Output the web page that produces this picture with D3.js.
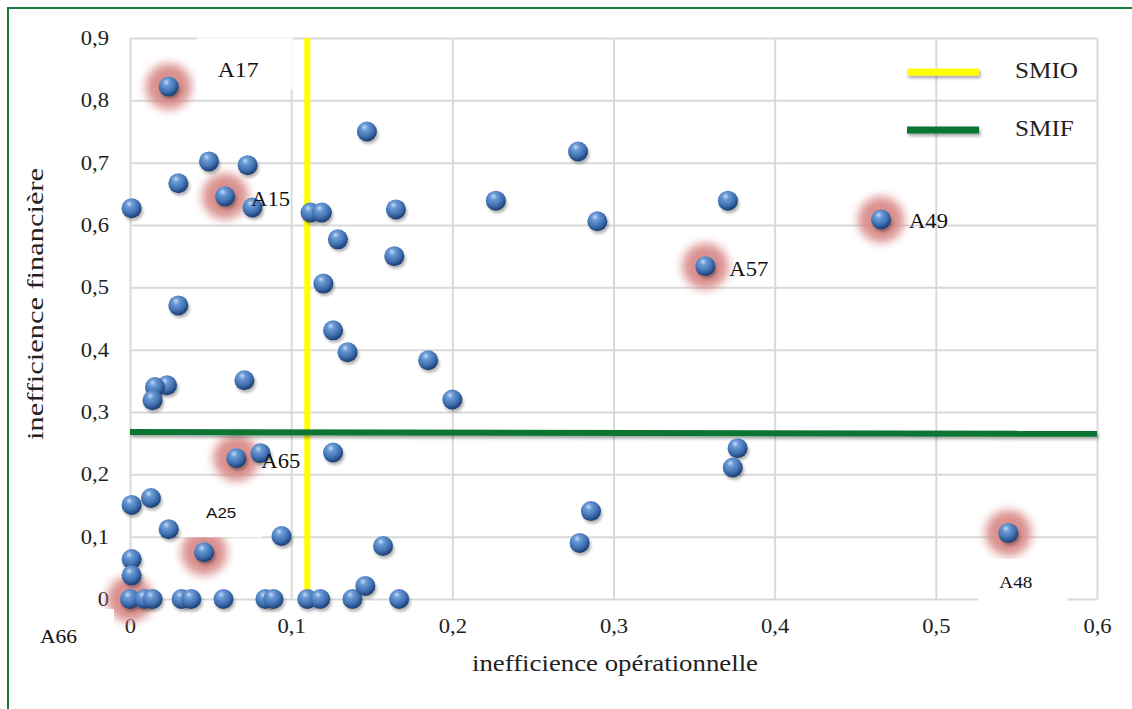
<!DOCTYPE html>
<html><head><meta charset="utf-8">
<script src="https://cdn.jsdelivr.net/npm/d3@7"></script>
<style>body{margin:0;background:#fff}svg{display:block}
.serif{font-family:"Liberation Serif","Times New Roman",Times,serif}
.sans{font-family:"Liberation Sans",Arial,sans-serif}</style>
</head><body>
<svg id="c" width="1132" height="709"></svg>
<script>
// ---- data ----
const pointX = [0.024,0.001,0.030,0.049,0.073,0.059,0.076,0.112,0.119,0.147,
  0.278,0.165,0.227,0.290,0.129,0.164,0.120,0.126,0.135,0.185,
  0.200,0.371,0.466,0.357,0.030,0.071,0.023,0.0155,0.014,0.066,
  0.081,0.126,0.377,0.374,0.286,0.279,0.545,0.001,0.013,0.024,
  0.046,0.094,0.157,0.001,0.001,0.000,0.009,0.014,0.032,0.038,
  0.058,0.084,0.089,0.110,0.118,0.138,0.167,0.146];
const pointY = [0.822,0.627,0.667,0.702,0.696,0.646,0.628,0.620,0.620,0.750,
  0.718,0.625,0.639,0.606,0.577,0.550,0.506,0.431,0.396,0.383,
  0.320,0.639,0.609,0.534,0.471,0.351,0.343,0.340,0.319,0.226,
  0.234,0.235,0.242,0.211,0.141,0.090,0.106,0.151,0.162,0.112,
  0.075,0.101,0.085,0.064,0.038,0.000,0.000,0.000,0.000,0.000,
  0.000,0.000,0.000,0.000,0.000,0.000,0.000,0.021];
const pointLabel = ["A17","","","","","A15","","","","",
  "","","","","","","","","","",
  "","","A49","A57","","","","","","A65",
  "","","","","","","A48","","","",
  "A25","","","","","A66","","","","",
  "","","","","","","",""];
const xTicks = [0,0.1,0.2,0.3,0.4,0.5,0.6];
const yTicks = [0,0.1,0.2,0.3,0.4,0.5,0.6,0.7,0.8,0.9];
const smioX = 0.110;       // SMIO threshold (operational)
const smifY = [0.268,0.265]; // SMIF threshold (financial), start/end
const legendNames = ["SMIO","SMIF"];
const xTitle = "inefficience opérationnelle";
const yTitle = "inefficience financière";

// ---- label styling (pixel offsets from point) ----
const labelStyle = {
  A17:{dx:49,dy:-17,size:21,cls:"serif",box:[28,-49,96,52]},
  A15:{dx:26,dy:3,size:20,cls:"serif"},
  A49:{dx:28,dy:2,size:20,cls:"serif"},
  A57:{dx:24,dy:3,size:20,cls:"serif"},
  A65:{dx:25,dy:3,size:20,cls:"serif"},
  A25:{dx:2,dy:-40,size:15,cls:"sans",box:[-25,-61,83,46]},
  A48:{dx:-9,dy:50,size:17,cls:"serif",box:[-30,26,89,42]},
  A66:{dx:-90,dy:37,size:19,cls:"serif",box:[-101,10,85,50]}
};

const STRETCH = 1.13;
function stretch(sel, k){
  sel.each(function(){
    const w = this.getComputedTextLength();
    if (w>0) d3.select(this).attr("textLength", w*(k||STRETCH)).attr("lengthAdjust","spacingAndGlyphs");
  });
}

const svg = d3.select("#c");
const L=130,R=1097,T=38,B=599;
const x = d3.scaleLinear().domain([0,0.6]).range([L,R]);
const y = d3.scaleLinear().domain([0,0.9]).range([B,T]);
const loc = d3.formatLocale({decimal:",",thousands:" ",grouping:[3],currency:["","€"]});
const fmt = v => v===0 ? "0" : loc.format(".1f")(v);

const defs = svg.append("defs");
const g1 = defs.append("radialGradient").attr("id","sph").attr("cx","40%").attr("cy","32%").attr("r","65%").attr("fx","38%").attr("fy","28%");
g1.append("stop").attr("offset","0%").attr("stop-color","#c4dcf7");
g1.append("stop").attr("offset","25%").attr("stop-color","#6c9bd6");
g1.append("stop").attr("offset","70%").attr("stop-color","#3e6fb0");
g1.append("stop").attr("offset","100%").attr("stop-color","#1f4378");
const fBlur = defs.append("filter").attr("id","glow").attr("x","-60%").attr("y","-60%").attr("width","220%").attr("height","220%");
fBlur.append("feGaussianBlur").attr("stdDeviation",5);
const fSh = defs.append("filter").attr("id","sh").attr("x","-50%").attr("y","-50%").attr("width","200%").attr("height","200%");
fSh.append("feGaussianBlur").attr("stdDeviation",1.8);
const fLine = defs.append("filter").attr("id","lsh").attr("filterUnits","userSpaceOnUse")
  .attr("x",0).attr("y",0).attr("width",1132).attr("height",709);
fLine.append("feDropShadow").attr("dx",1.5).attr("dy",2.5).attr("stdDeviation",1.5).attr("flood-color","#000").attr("flood-opacity",0.35);

// frame
svg.append("rect").attr("x",8).attr("y",8).attr("width",1160).attr("height",740)
  .attr("fill","none").attr("stroke","#1b7a3e").attr("stroke-width",2);

// grid
svg.append("g").attr("transform",`translate(0,${B})`)
  .call(d3.axisBottom(x).tickValues(xTicks).tickSize(-(B-T)).tickFormat(""))
  .call(g=>{g.select(".domain").remove();g.selectAll("line").attr("stroke","#d9d9d9").attr("stroke-width",2);});
svg.append("g").attr("transform",`translate(${L},0)`)
  .call(d3.axisLeft(y).tickValues(yTicks).tickSize(-(R-L)).tickFormat(""))
  .call(g=>{g.select(".domain").remove();g.selectAll("line").attr("stroke","#d9d9d9").attr("stroke-width",2);});

// tick labels
svg.append("g").attr("transform",`translate(${L},0)`)
  .call(d3.axisLeft(y).tickValues(yTicks).tickSize(0).tickPadding(21).tickFormat(fmt))
  .call(g=>{g.select(".domain").remove();g.attr("font-family",null).attr("font-size",null);
    g.selectAll("text").attr("class","serif").attr("font-size",20).attr("fill","#222").call(stretch);});
svg.append("g").attr("transform",`translate(0,${B})`)
  .call(d3.axisBottom(x).tickValues(xTicks).tickSize(0).tickPadding(20).tickFormat(fmt))
  .call(g=>{g.select(".domain").remove();g.attr("font-family",null).attr("font-size",null);
    g.selectAll("text").attr("class","serif").attr("font-size",20).attr("fill","#222").call(stretch);});

// titles
svg.append("text").attr("class","serif").attr("x",615).attr("y",671).attr("text-anchor","middle")
  .attr("font-size",24).attr("fill","#222").attr("textLength",286).attr("lengthAdjust","spacingAndGlyphs").text(xTitle);
svg.append("text").attr("class","serif").attr("transform","translate(43,304) rotate(-90)").attr("text-anchor","middle")
  .attr("font-size",24).attr("fill","#222").attr("textLength",272).attr("lengthAdjust","spacingAndGlyphs").text(yTitle);

const pts = pointX.map((v,i)=>({x:v,y:pointY[i],label:pointLabel[i]}));

// glows
svg.append("g").selectAll("circle").data(pts.filter(d=>d.label)).join("circle")
  .attr("cx",d=>x(d.x)).attr("cy",d=>y(d.y)).attr("r",23)
  .attr("fill","#d68482").attr("opacity",0.9).attr("filter","url(#glow)");

// threshold lines
svg.append("line").attr("x1",x(smioX)).attr("x2",x(smioX)).attr("y1",y(0.9)).attr("y2",y(0.007))
  .attr("stroke","#ffff00").attr("stroke-width",6);
svg.append("line").attr("x1",x(0)).attr("x2",x(0.6)).attr("y1",y(smifY[0])).attr("y2",y(smifY[1]))
  .attr("stroke","#0b7533").attr("stroke-width",6).attr("filter","url(#lsh)");

// label boxes
svg.append("g").selectAll("rect").data(pts.filter(d=>d.label && labelStyle[d.label].box)).join("rect")
  .attr("x",d=>x(d.x)+labelStyle[d.label].box[0]).attr("y",d=>y(d.y)+labelStyle[d.label].box[1])
  .attr("width",d=>labelStyle[d.label].box[2]).attr("height",d=>labelStyle[d.label].box[3]).attr("fill","#fff");

// sphere shadows + spheres
const pg = svg.append("g");
pg.selectAll("ellipse").data(pts).join("ellipse")
  .attr("cx",d=>x(d.x)+1.5).attr("cy",d=>y(d.y)+3).attr("rx",10).attr("ry",9.5)
  .attr("fill","#000").attr("opacity",0.3).attr("filter","url(#sh)");
pg.selectAll("circle").data(pts).join("circle")
  .attr("cx",d=>x(d.x)).attr("cy",d=>y(d.y)).attr("r",10)
  .attr("fill","url(#sph)");

// labels
svg.append("g").selectAll("text").data(pts.filter(d=>d.label)).join("text")
  .attr("class",d=>labelStyle[d.label].cls)
  .attr("x",d=>x(d.x)+labelStyle[d.label].dx).attr("y",d=>y(d.y)+labelStyle[d.label].dy)
  .attr("dominant-baseline","central")
  .attr("font-size",d=>labelStyle[d.label].size)
  .attr("fill","#111").text(d=>d.label).call(stretch);

// legend
const legColors = ["#ffff00","#0b7533"];
const lg = svg.append("g");
legendNames.forEach((n,i)=>{
  const yy = 72 + i*58;
  lg.append("line").attr("x1",907).attr("x2",979).attr("y1",yy).attr("y2",yy)
    .attr("stroke",legColors[i]).attr("stroke-width",7).attr("filter","url(#lsh)");
  lg.append("text").attr("class","serif").attr("x",1015).attr("y",yy-2).attr("dominant-baseline","central")
    .attr("font-size",24).attr("fill","#222").text(n).call(stretch, 1.05);
});
</script>
</body></html>
